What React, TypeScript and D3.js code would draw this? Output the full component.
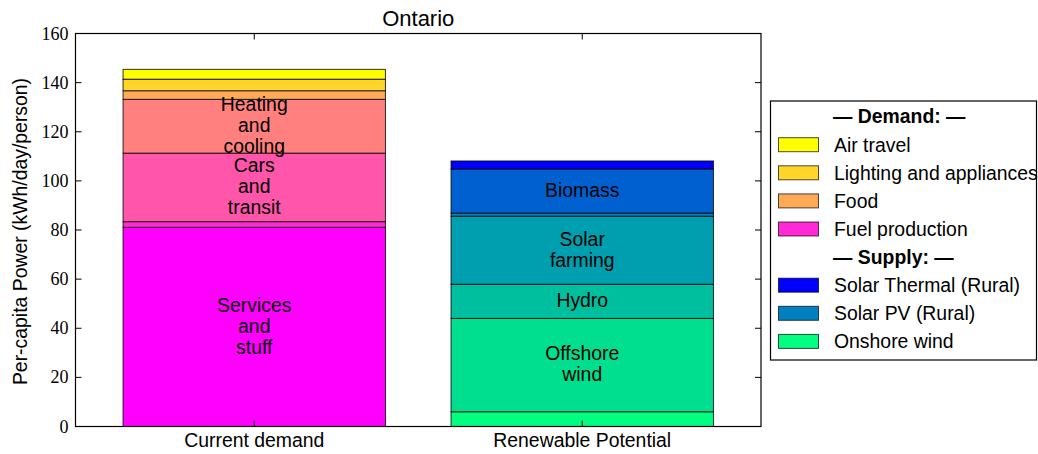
import React from "react";
import * as d3 from "d3";

const title = "Ontario";
const yLabel = "Per-capita Power (kWh/day/person)";
const barNames = ["Current demand", "Renewable Potential"];
const yTicks = [0, 20, 40, 60, 80, 100, 120, 140, 160];

const demandLabels = ["Services and stuff", "Fuel production", "Cars and transit", "Heating and cooling", "Food", "Lighting and appliances", "Air travel"];
const demandValues = [81.1, 2.3, 27.9, 21.9, 3.5, 4.7, 4.0];
const demandColors = ["#ff00ff", "#ff2ad5", "#ff55aa", "#ff807f", "#ffaa55", "#ffd52a", "#ffff00"];

const supplyLabels = ["Onshore wind", "Offshore wind", "Hydro", "Solar farming", "Solar PV (Rural)", "Biomass", "Solar Thermal (Rural)"];
const supplyValues = [6.0, 38.0, 13.9, 27.7, 1.3, 17.9, 3.3];
const supplyColors = ["#00ff80", "#00df8f", "#00bf9f", "#009faf", "#0080bf", "#0060cf", "#0000ff"];

const W = 1038, H = 454;
const L = 75.5, R = 761, T = 33.5, B = 426.5;
const SANS = "'Liberation Sans', Arial, sans-serif";
const SERIF = "'Liberation Serif', 'DejaVu Serif', serif";
const FS = 19.4;

type Seg = { label: string; value: number; y0: number; y1: number; color: string };
function stackSegs(labels: string[], values: number[], colors: string[]): Seg[] {
  let acc = 0;
  return labels.map((l, i) => {
    const s = { label: l, value: values[i], y0: acc, y1: acc + values[i], color: colors[i] };
    acc += values[i];
    return s;
  });
}

export default function App() {
  const x = d3.scaleLinear().domain([-0.545, 1.545]).range([L, R]);
  const y = d3.scaleLinear().domain([0, 160]).range([B, T]);
  const bw = x(0.8) - x(0);
  const stacks = [
    stackSegs(demandLabels, demandValues, demandColors),
    stackSegs(supplyLabels, supplyValues, supplyColors),
  ];
  const threshold = 10;
  const legendGroups = [
    { header: "— Demand: —", segs: stacks[0].filter((s) => s.value < threshold).reverse() },
    { header: "— Supply: —", segs: stacks[1].filter((s) => s.value < threshold).reverse() },
  ];
  const legendRows: { kind: "h" | "i"; text: string; color?: string }[] = [];
  legendGroups.forEach((g) => {
    legendRows.push({ kind: "h", text: g.header });
    g.segs.forEach((s) => legendRows.push({ kind: "i", text: s.label, color: s.color }));
  });
  const lineH = 21;
  return (
    <svg width={W} height={H} style={{ position: "absolute", left: 0, top: 0 }}>
      <rect x={0} y={0} width={W} height={H} fill="#fff" />
      {stacks.map((segs, bi) => (
        <g key={bi}>
          {segs.map((s, si) => (
            <rect key={si} x={x(bi) - bw / 2} y={y(s.y1)} width={bw} height={y(s.y0) - y(s.y1)}
              fill={s.color} stroke="rgba(0,0,0,0.8)" strokeWidth={1} />
          ))}
          {segs.filter((s) => s.value >= threshold).map((s, si) => {
            const words = s.label.split(" ");
            const cy = y((s.y0 + s.y1) / 2);
            return (
              <text key={"t" + si} x={x(bi)} fontFamily={SANS} fontSize={FS} textAnchor="middle" fill="#000">
                {words.map((w, wi) => (
                  <tspan key={wi} x={x(bi)} y={cy + (wi - (words.length - 1) / 2) * lineH + 5.8}>{w}</tspan>
                ))}
              </text>
            );
          })}
        </g>
      ))}
      {/* frame */}
      <rect x={L} y={T} width={R - L} height={B - T} fill="none" stroke="#000" strokeWidth={1.2} />
      {yTicks.map((t) => (
        <g key={t}>
          <line x1={L} x2={L + 6} y1={y(t)} y2={y(t)} stroke="#000" />
          <line x1={R} x2={R - 6} y1={y(t)} y2={y(t)} stroke="#000" />
          <text x={L - 7} y={y(t) + 6} fontFamily={SERIF} fontSize={18} textAnchor="end">{t}</text>
        </g>
      ))}
      {barNames.map((n, i) => (
        <g key={n}>
          <line x1={x(i)} x2={x(i)} y1={B} y2={B - 6} stroke="#000" />
          <line x1={x(i)} x2={x(i)} y1={T} y2={T + 6} stroke="#000" />
          <text x={x(i)} y={447} fontFamily={SANS} fontSize={FS} textAnchor="middle">{n}</text>
        </g>
      ))}
      <text x={(L + R) / 2} y={26} fontFamily={SANS} fontSize={22} textAnchor="middle">{title}</text>
      <text transform={`translate(26.5,231.5) rotate(-90)`} fontFamily={SANS} fontSize={FS} textAnchor="middle">{yLabel}</text>
      {/* legend */}
      <rect x={770.5} y={101} width={266} height={259} fill="#fff" stroke="#000" strokeWidth={1.2} />
      {legendRows.map((r, i) => {
        const cy = 116.6 + i * 28.1;
        return r.kind === "h" ? (
          <text key={i} x={833} y={cy + 6.8} fontFamily={SANS} fontSize={FS} fontWeight="bold">{r.text}</text>
        ) : (
          <g key={i}>
            <rect x={778.5} y={cy - 7} width={40} height={14} fill={r.color} stroke="rgba(0,0,0,0.7)" strokeWidth={1} />
            <text x={834} y={cy + 6.8} fontFamily={SANS} fontSize={FS}>{r.text}</text>
          </g>
        );
      })}
    </svg>
  );
}
